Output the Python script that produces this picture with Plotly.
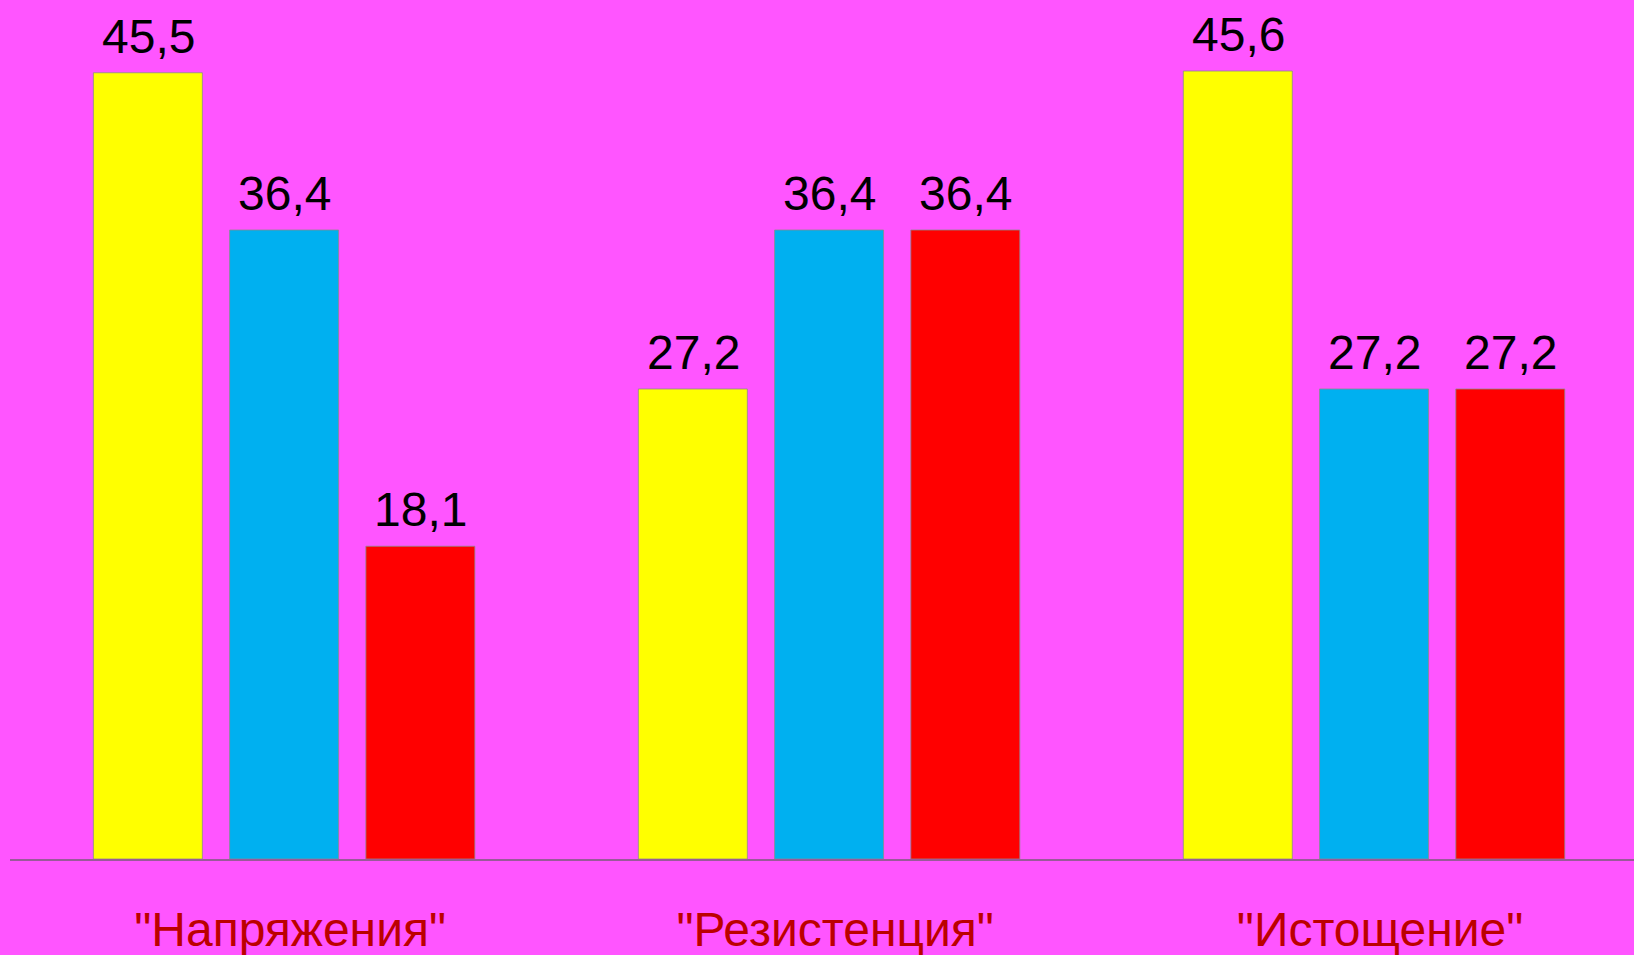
import plotly.graph_objects as go

# Stages of the stress response and the share (%) in each of three groups
categories = ['"Напряжения"', '"Резистенция"', '"Истощение"']
series_a = [45.5, 27.2, 45.6]
series_b = [36.4, 36.4, 27.2]
series_c = [18.1, 36.4, 27.2]

series = [series_a, series_b, series_c]
colors = ["#FFFF00", "#00B0F0", "#FF0000"]

FONT = "Liberation Sans, Arial, sans-serif"
BG = "#FF55FF"

fig = go.Figure()
for vals, col in zip(series, colors):
    fig.add_trace(go.Bar(
        x=categories,
        y=vals,
        marker=dict(color=col, line=dict(color="#8C8C8C", width=0.8)),
        hoverinfo="skip",
    ))

# value labels above each bar, offset sideways to the bar's slot in its group
slot_px = 136
annotations = []
for i, vals in enumerate(series):
    for j, v in enumerate(vals):
        annotations.append(dict(
            x=j, y=v, xref="x", yref="y",
            text=f"{v:.1f}".replace(".", ","),
            showarrow=False,
            xshift=(i - 1) * slot_px,
            yanchor="bottom", yshift=8,
            font=dict(family=FONT, size=48, color="#000000"),
        ))

fig.update_layout(
    width=1634, height=955,
    margin=dict(l=10, r=0, t=0, b=96),
    paper_bgcolor=BG, plot_bgcolor=BG,
    barmode="group", bargap=0.25, bargroupgap=0.2,
    showlegend=False,
    annotations=annotations,
    font=dict(family=FONT),
)
fig.update_xaxes(
    type="category",
    range=[-0.503, 2.477],
    showline=True, linecolor="#9A5A9A", linewidth=2,
    showgrid=False, zeroline=False, ticks="",
    tickfont=dict(family=FONT, size=48, color="#BC0000"),
    ticklabelstandoff=27,
    ticklabelshift=6,
)
fig.update_yaxes(
    range=[0, 49.71],
    visible=False, showgrid=False, zeroline=False,
)

fig.write_html("out.html")
